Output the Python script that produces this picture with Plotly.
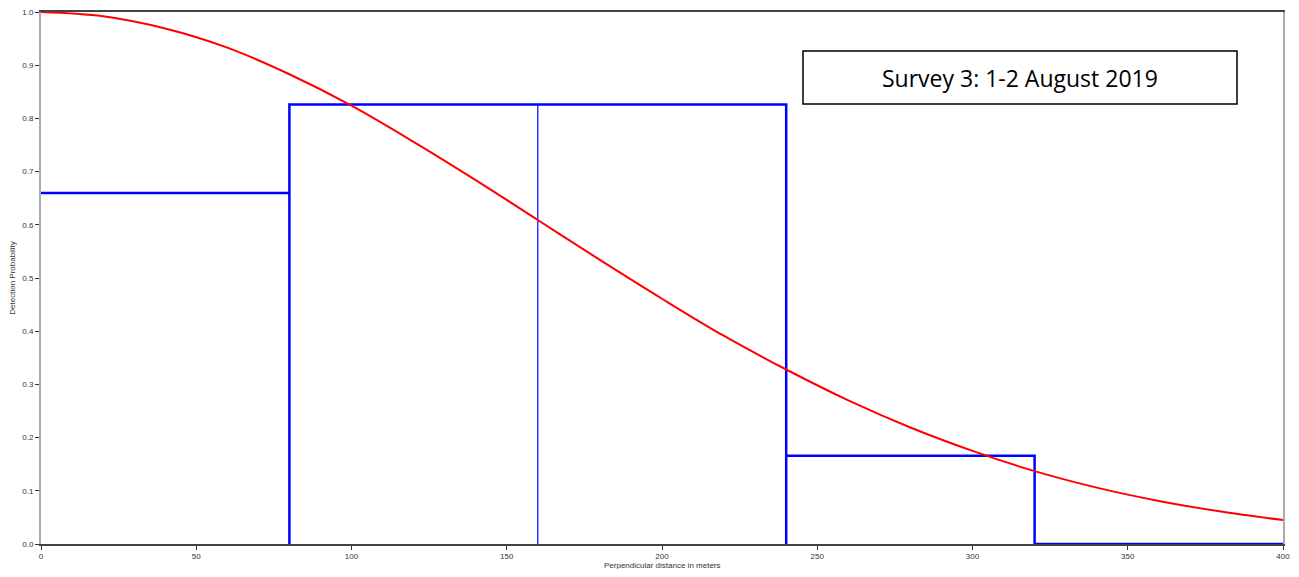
import plotly.graph_objects as go

# Histogram bins (perpendicular distance, m) and scaled detection heights
bin_edges = [0, 80, 160, 240, 320, 400]
bin_heights = [0.66, 0.826, 0.826, 0.166, 0.0]

# Fitted detection function
curve_x = [0, 20, 40, 60, 80, 100, 120, 140, 160, 180, 200, 220, 240, 260, 280, 300, 320, 340, 360, 380, 400]
curve_y = [1.0, 0.992, 0.969, 0.933, 0.883, 0.824, 0.756, 0.684, 0.609, 0.534, 0.461, 0.391, 0.328,
           0.270, 0.219, 0.175, 0.137, 0.106, 0.081, 0.061, 0.045]

x_ticks = [0, 50, 100, 150, 200, 250, 300, 350, 400]
y_ticks = [0.0, 0.1, 0.2, 0.3, 0.4, 0.5, 0.6, 0.7, 0.8, 0.9, 1.0]
label_text = "Survey 3: 1-2 August 2019"
x_title = "Perpendicular distance in meters"
y_title = "Detection Probability"

n = len(bin_heights)
# Outline path of the histogram (thick)
ox, oy = [bin_edges[0]], [bin_heights[0]]
for i, h in enumerate(bin_heights):
    ox.append(bin_edges[i + 1]); oy.append(h)
    if i + 1 < n and bin_heights[i + 1] != h:
        ox += [bin_edges[i + 1], bin_edges[i + 1]]
        oy += [0, bin_heights[i + 1]]
# Thin internal dividers between bins of equal height
dx, dy = [], []
for i in range(n - 1):
    if bin_heights[i] == bin_heights[i + 1] and bin_heights[i] > 0:
        dx += [bin_edges[i + 1], bin_edges[i + 1], None]
        dy += [0, bin_heights[i], None]

fig = go.Figure()
fig.add_trace(go.Scatter(x=dx, y=dy, mode="lines", line=dict(color="#0000ff", width=1.2),
                         showlegend=False, hoverinfo="skip"))
fig.add_trace(go.Scatter(x=ox, y=oy, mode="lines", line=dict(color="#0000ff", width=2.5),
                         showlegend=False, hoverinfo="skip"))
fig.add_trace(go.Scatter(x=curve_x, y=curve_y, mode="lines", line=dict(color="#ff0000", width=2, shape="spline"),
                         showlegend=False))

# page body adds an 8px offset; target screenshot plot box is x 41..1283, y 12..544
OFF = 8
W, H = 1299 - 2 * OFF, 577 - 2 * OFF
PL, PR, PT, PB = 41 - OFF, 1283 - OFF, 12 - OFF, 544 - OFF

fig.add_shape(type="rect", xref="paper", yref="paper",
              x0=(803 - OFF - PL) / (PR - PL), x1=(1237 - OFF - PL) / (PR - PL),
              y0=(PB - (104 - OFF)) / (PB - PT), y1=(PB - (51 - OFF)) / (PB - PT),
              line=dict(color="black", width=1.5), fillcolor="white", layer="above")
fig.add_annotation(xref="paper", yref="paper", x=(1020 - OFF - PL) / (PR - PL), y=(PB - (78 - OFF)) / (PB - PT),
                   xanchor="center", yanchor="middle",
                   text=label_text, showarrow=False,
                   font=dict(family="Open Sans, Noto Sans, sans-serif", size=23, color="black"))
fig.add_annotation(xref="paper", yref="paper", x=0.5, y=0, yshift=-21,
                   xanchor="center", yanchor="middle", text=x_title, showarrow=False,
                   font=dict(size=8, color="#333333"))

fig.update_layout(
    width=W, height=H,
    margin=dict(l=PL, r=W - PR, t=PT, b=H - PB, autoexpand=False),
    paper_bgcolor="white", plot_bgcolor="white",
    font=dict(family="Liberation Sans, Arial, sans-serif", size=8, color="#333333"),
    xaxis=dict(range=[0, 400], tickvals=x_ticks, showgrid=False, zeroline=False, automargin=False,
               showline=True, linecolor="#444444", linewidth=1.5, mirror=True,
               ticks="outside", ticklen=4, tickcolor="#333333", ticklabeloverflow="allow"),
    yaxis=dict(range=[0, 1], tickvals=y_ticks, tickformat=".1f", showgrid=False, zeroline=False, automargin=False,
               showline=True, linecolor="#aaaaaa", linewidth=2, mirror=True,
               ticks="outside", ticklen=4, tickcolor="#333333", ticklabeloverflow="allow",
               title=dict(text=y_title, font=dict(size=8), standoff=6)),
)

fig.write_html("out.html")
